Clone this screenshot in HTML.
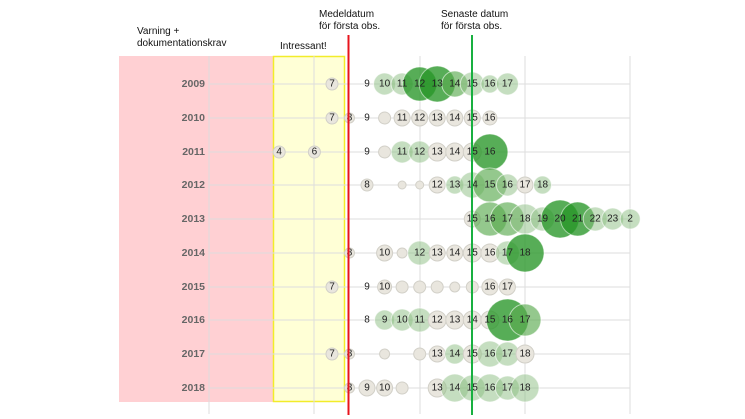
<!DOCTYPE html>
<html><head><meta charset="utf-8"><style>
body{margin:0;background:#fff}
svg{display:block}
.b{fill:#e9e6de;stroke:#d2d0c8;stroke-width:1}
.l{fill:rgba(140,190,130,.5);stroke:rgba(255,255,255,.6);stroke-width:1}
.m{fill:rgba(90,170,80,.65);stroke:rgba(255,255,255,.6);stroke-width:1}
.d{fill:rgba(40,150,40,.78);stroke:rgba(255,255,255,.5);stroke-width:1}
.t{font-family:"Liberation Sans",sans-serif;font-size:10px;fill:#222;text-anchor:middle;dominant-baseline:central}
.y{font-family:"Liberation Sans",sans-serif;font-size:10.5px;font-weight:bold;fill:#666;text-anchor:end;dominant-baseline:central}
.a{font-family:"Liberation Sans",sans-serif;font-size:10px;fill:#111}
</style></head><body>
<svg width="745" height="419" viewBox="0 0 745 419">
<rect x="119" y="56" width="154" height="346" fill="#ffd0d3"/>
<rect x="273.5" y="56.5" width="71" height="345" fill="#ffffd6" stroke="#f2ec2a" stroke-width="1.5"/>
<g stroke="#ddd" stroke-width="1">
<line x1="209" y1="56" x2="209" y2="414"/><line x1="314" y1="56" x2="314" y2="414"/><line x1="420" y1="56" x2="420" y2="414"/><line x1="525" y1="56" x2="525" y2="414"/><line x1="630" y1="56" x2="630" y2="414"/>
<line x1="209" y1="84" x2="630" y2="84"/><line x1="209" y1="118" x2="630" y2="118"/><line x1="209" y1="152" x2="630" y2="152"/><line x1="209" y1="185" x2="630" y2="185"/><line x1="209" y1="219" x2="630" y2="219"/><line x1="209" y1="253" x2="630" y2="253"/><line x1="209" y1="287" x2="630" y2="287"/><line x1="209" y1="320" x2="630" y2="320"/><line x1="209" y1="354" x2="630" y2="354"/><line x1="209" y1="388" x2="630" y2="388"/>
</g>
<g class="y"><text x="205" y="84">2009</text><text x="205" y="118">2010</text><text x="205" y="152">2011</text><text x="205" y="185">2012</text><text x="205" y="219">2013</text><text x="205" y="253">2014</text><text x="205" y="287">2015</text><text x="205" y="320">2016</text><text x="205" y="354">2017</text><text x="205" y="388">2018</text></g>
<!-- 2009 -->
<circle class="b" cx="332" cy="84" r="6"/><circle class="l" cx="384.6" cy="84" r="11"/><circle class="l" cx="402.1" cy="84" r="11"/><circle class="d" cx="419.7" cy="84" r="17"/><circle class="d" cx="437.2" cy="84" r="18"/><circle class="m" cx="454.8" cy="84" r="13"/><circle class="l" cx="472.3" cy="84" r="12"/><circle class="l" cx="489.9" cy="84" r="9"/><circle class="l" cx="507.4" cy="84" r="11"/>
<!-- 2010 -->
<circle class="b" cx="332" cy="118" r="6"/><circle class="b" cx="349.5" cy="118" r="5"/><circle class="b" cx="384.6" cy="118" r="6"/><circle class="b" cx="402.1" cy="118" r="8"/><circle class="b" cx="419.7" cy="118" r="8"/><circle class="b" cx="437.2" cy="118" r="8"/><circle class="b" cx="454.8" cy="118" r="8"/><circle class="b" cx="472.3" cy="118" r="8"/><circle class="b" cx="489.9" cy="118" r="7"/>
<!-- 2011 -->
<circle class="b" cx="279.2" cy="152" r="6"/><circle class="b" cx="314.4" cy="152" r="6"/><circle class="b" cx="384.6" cy="152" r="6"/><circle class="l" cx="402.1" cy="152" r="11"/><circle class="l" cx="419.7" cy="152" r="11"/><circle class="b" cx="437.2" cy="152" r="9"/><circle class="b" cx="454.8" cy="152" r="9"/><circle class="b" cx="472.3" cy="152" r="9"/><circle class="d" cx="489.9" cy="152" r="18"/>
<!-- 2012 -->
<circle class="b" cx="367" cy="185" r="6"/><circle class="b" cx="402.1" cy="185" r="4"/><circle class="b" cx="419.7" cy="185" r="4"/><circle class="b" cx="437.2" cy="185" r="8"/><circle class="l" cx="454.8" cy="185" r="9"/><circle class="l" cx="472.3" cy="185" r="13"/><circle class="m" cx="489.9" cy="185" r="17"/><circle class="l" cx="507.4" cy="185" r="11"/><circle class="b" cx="525" cy="185" r="8"/><circle class="l" cx="542.5" cy="185" r="9"/>
<!-- 2013 -->
<circle class="b" cx="472.3" cy="219" r="8"/><circle class="m" cx="489.9" cy="219" r="17"/><circle class="m" cx="507.4" cy="219" r="17"/><circle class="l" cx="525" cy="219" r="15"/><circle class="l" cx="542.5" cy="219" r="12"/><circle class="d" cx="560" cy="219" r="19"/><circle class="d" cx="577.6" cy="219" r="17"/><circle class="l" cx="595.2" cy="219" r="12"/><circle class="l" cx="612.7" cy="219" r="11"/><circle class="l" cx="630.2" cy="219" r="10"/>
<!-- 2014 -->
<circle class="b" cx="349.5" cy="253" r="5"/><circle class="b" cx="384.6" cy="253" r="8"/><circle class="b" cx="402.1" cy="253" r="5"/><circle class="l" cx="419.7" cy="253" r="12"/><circle class="b" cx="437.2" cy="253" r="8"/><circle class="b" cx="454.8" cy="253" r="8"/><circle class="b" cx="472.3" cy="253" r="9"/><circle class="b" cx="489.9" cy="253" r="9"/><circle class="l" cx="507.4" cy="253" r="12"/><circle class="d" cx="525" cy="253" r="19"/>
<!-- 2015 -->
<circle class="b" cx="332" cy="287" r="6"/><circle class="b" cx="384.6" cy="287" r="7"/><circle class="b" cx="402.1" cy="287" r="6"/><circle class="b" cx="419.7" cy="287" r="6"/><circle class="b" cx="437.2" cy="287" r="6"/><circle class="b" cx="454.8" cy="287" r="5"/><circle class="b" cx="472.3" cy="287" r="6"/><circle class="b" cx="489.9" cy="287" r="8"/><circle class="b" cx="507.4" cy="287" r="8"/>
<!-- 2016 -->
<circle class="l" cx="384.6" cy="320" r="10"/><circle class="l" cx="402.1" cy="320" r="11"/><circle class="l" cx="419.7" cy="320" r="12"/><circle class="b" cx="437.2" cy="320" r="9"/><circle class="b" cx="454.8" cy="320" r="9"/><circle class="b" cx="472.3" cy="320" r="9"/><circle class="b" cx="489.9" cy="320" r="9"/><circle class="d" cx="507.4" cy="320" r="21"/><circle class="m" cx="525" cy="320" r="16"/>
<!-- 2017 -->
<circle class="b" cx="332" cy="354" r="6"/><circle class="b" cx="349.5" cy="354" r="5"/><circle class="b" cx="384.6" cy="354" r="5"/><circle class="b" cx="419.7" cy="354" r="6"/><circle class="b" cx="437.2" cy="354" r="8"/><circle class="l" cx="454.8" cy="354" r="10"/><circle class="b" cx="472.3" cy="354" r="9"/><circle class="l" cx="489.9" cy="354" r="13"/><circle class="l" cx="507.4" cy="354" r="12"/><circle class="b" cx="525" cy="354" r="9"/>
<!-- 2018 -->
<circle class="b" cx="349.5" cy="388" r="5"/><circle class="b" cx="367" cy="388" r="8"/><circle class="b" cx="384.6" cy="388" r="8"/><circle class="b" cx="402.1" cy="388" r="6"/><circle class="b" cx="437.2" cy="388" r="9"/><circle class="l" cx="454.8" cy="388" r="14"/><circle class="l" cx="472.3" cy="388" r="13"/><circle class="l" cx="489.9" cy="388" r="14"/><circle class="l" cx="507.4" cy="388" r="12"/><circle class="l" cx="525" cy="388" r="14"/>
<g class="t">
<text x="332" y="84">7</text><text x="367" y="84">9</text><text x="384.6" y="84">10</text><text x="402.1" y="84">11</text><text x="419.7" y="84">12</text><text x="437.2" y="84">13</text><text x="454.8" y="84">14</text><text x="472.3" y="84">15</text><text x="489.9" y="84">16</text><text x="507.4" y="84">17</text>
<text x="332" y="118">7</text><text x="349.5" y="118">8</text><text x="367" y="118">9</text><text x="402.1" y="118">11</text><text x="419.7" y="118">12</text><text x="437.2" y="118">13</text><text x="454.8" y="118">14</text><text x="472.3" y="118">15</text><text x="489.9" y="118">16</text>
<text x="279.2" y="152">4</text><text x="314.4" y="152">6</text><text x="367" y="152">9</text><text x="402.1" y="152">11</text><text x="419.7" y="152">12</text><text x="437.2" y="152">13</text><text x="454.8" y="152">14</text><text x="472.3" y="152">15</text><text x="489.9" y="152">16</text>
<text x="367" y="185">8</text><text x="437.2" y="185">12</text><text x="454.8" y="185">13</text><text x="472.3" y="185">14</text><text x="489.9" y="185">15</text><text x="507.4" y="185">16</text><text x="525" y="185">17</text><text x="542.5" y="185">18</text>
<text x="472.3" y="219">15</text><text x="489.9" y="219">16</text><text x="507.4" y="219">17</text><text x="525" y="219">18</text><text x="542.5" y="219">19</text><text x="560" y="219">20</text><text x="577.6" y="219">21</text><text x="595.2" y="219">22</text><text x="612.7" y="219">23</text><text x="630.2" y="219">2</text>
<text x="349.5" y="253">8</text><text x="384.6" y="253">10</text><text x="419.7" y="253">12</text><text x="437.2" y="253">13</text><text x="454.8" y="253">14</text><text x="472.3" y="253">15</text><text x="489.9" y="253">16</text><text x="507.4" y="253">17</text><text x="525" y="253">18</text>
<text x="332" y="287">7</text><text x="367" y="287">9</text><text x="384.6" y="287">10</text><text x="489.9" y="287">16</text><text x="507.4" y="287">17</text>
<text x="367" y="320">8</text><text x="384.6" y="320">9</text><text x="402.1" y="320">10</text><text x="419.7" y="320">11</text><text x="437.2" y="320">12</text><text x="454.8" y="320">13</text><text x="472.3" y="320">14</text><text x="489.9" y="320">15</text><text x="507.4" y="320">16</text><text x="525" y="320">17</text>
<text x="332" y="354">7</text><text x="349.5" y="354">8</text><text x="437.2" y="354">13</text><text x="454.8" y="354">14</text><text x="472.3" y="354">15</text><text x="489.9" y="354">16</text><text x="507.4" y="354">17</text><text x="525" y="354">18</text>
<text x="349.5" y="388">8</text><text x="367" y="388">9</text><text x="384.6" y="388">10</text><text x="437.2" y="388">13</text><text x="454.8" y="388">14</text><text x="472.3" y="388">15</text><text x="489.9" y="388">16</text><text x="507.4" y="388">17</text><text x="525" y="388">18</text>
</g>
<line x1="348.5" y1="35" x2="348.5" y2="415" stroke="#e8141c" stroke-width="2"/>
<line x1="472" y1="35" x2="472" y2="415" stroke="#18b040" stroke-width="2"/>
<g class="a">
<text x="137" y="34">Varning +</text><text x="137" y="46">dokumentationskrav</text>
<text x="280" y="49">Intressant!</text>
<text x="319" y="17">Medeldatum</text><text x="319" y="29">för första obs.</text>
<text x="441" y="17">Senaste datum</text><text x="441" y="29">för första obs.</text>
</g>
</svg>
</body></html>
